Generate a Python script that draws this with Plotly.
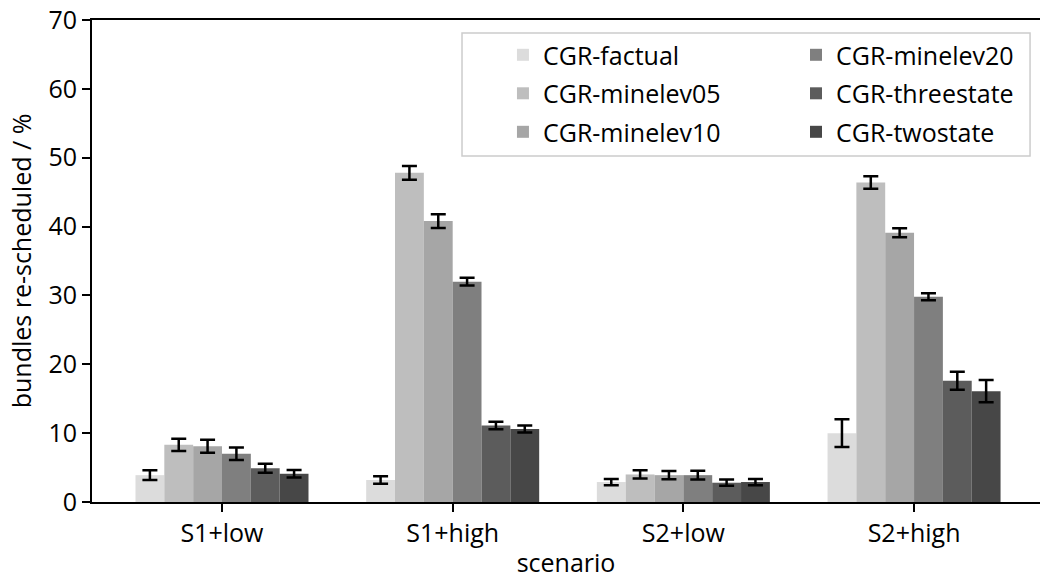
import plotly.graph_objects as go

scenarios = ["S1+low", "S1+high", "S2+low", "S2+high"]
series_names = ["CGR-factual", "CGR-minelev05", "CGR-minelev10",
                "CGR-minelev20", "CGR-threestate", "CGR-twostate"]
colors = ["#dcdcdc", "#bebebe", "#a6a6a6", "#7f7f7f", "#5c5c5c", "#474747"]

factual = [3.9, 3.2, 2.9, 10.0]
minelev05 = [8.3, 47.8, 4.0, 46.4]
minelev10 = [8.1, 40.8, 3.9, 39.1]
minelev20 = [7.0, 32.0, 3.9, 29.8]
threestate = [4.9, 11.1, 2.8, 17.6]
twostate = [4.1, 10.6, 2.9, 16.1]

factual_err = [0.7, 0.55, 0.45, 2.0]
minelev05_err = [0.9, 1.0, 0.6, 0.9]
minelev10_err = [0.95, 1.0, 0.6, 0.65]
minelev20_err = [0.9, 0.55, 0.65, 0.5]
threestate_err = [0.65, 0.55, 0.45, 1.3]
twostate_err = [0.55, 0.5, 0.45, 1.6]

values = [factual, minelev05, minelev10, minelev20, threestate, twostate]
errors = [factual_err, minelev05_err, minelev10_err, minelev20_err,
          threestate_err, twostate_err]

FONT = "Open Sans"
FS = 25

fig = go.Figure()
for i, (name, col, v, e) in enumerate(zip(series_names, colors, values, errors)):
    fig.add_trace(go.Bar(
        x=scenarios, y=v, name=name,
        marker=dict(color=col, line=dict(width=0)),
        error_y=dict(type="data", array=e, visible=True, color="black",
                     thickness=2.5, width=7.5),
        legend="legend" if i < 3 else "legend2",
        legendgroup=name,
    ))

fig.update_layout(
    width=1040, height=579,
    margin=dict(l=92, r=0, t=20, b=77),
    paper_bgcolor="white", plot_bgcolor="white",
    font=dict(family=FONT, size=FS, color="black"),
    barmode="group", bargap=0.25, bargroupgap=0,
    showlegend=True,
    legend=dict(x=0.4335, y=0.975, xanchor="left", yanchor="top",
                bgcolor="rgba(0,0,0,0)", borderwidth=0,
                tracegroupgap=3, font=dict(family=FONT, size=FS)),
    legend2=dict(x=0.7426, y=0.975, xanchor="left", yanchor="top",
                 bgcolor="rgba(0,0,0,0)", borderwidth=0,
                 tracegroupgap=3, font=dict(family=FONT, size=FS)),
    xaxis=dict(
        range=[-0.5635, 3.546], showline=True, linecolor="black", linewidth=2,
        mirror=True, ticks="outside", ticklen=8, tickwidth=1.8,
        tickcolor="black", showgrid=False, zeroline=False,
        title=dict(text="scenario", standoff=8, font=dict(size=FS)),
        tickfont=dict(size=FS),
    ),
    yaxis=dict(
        range=[0, 70], tickvals=[0, 10, 20, 30, 40, 50, 60, 70],
        showline=True, linecolor="black", linewidth=2,
        ticks="outside", ticklen=8, tickwidth=1.8, tickcolor="black",
        showgrid=False, zeroline=False,
        title=dict(text="bundles re-scheduled / %", standoff=10,
                   font=dict(size=FS)),
        tickfont=dict(size=FS),
    ),
    shapes=[dict(type="rect", xref="paper", yref="paper",
                 x0=0.3903, x1=0.9895, y0=0.7178, y1=0.973,
                 line=dict(color="#cccccc", width=1.5),
                 fillcolor="rgba(255,255,255,0.8)", layer="below")],
)

fig.write_html("out.html")
